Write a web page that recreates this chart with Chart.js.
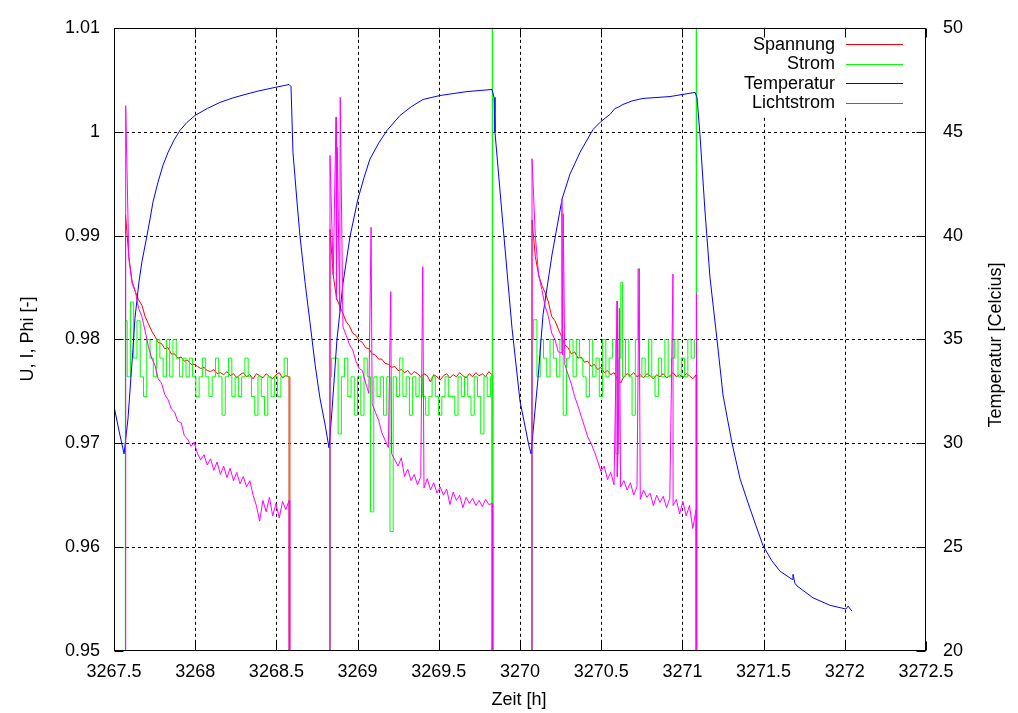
<!DOCTYPE html>
<html>
<head>
<meta charset="utf-8">
<script src="https://cdn.jsdelivr.net/npm/chart.js@4.4.1/dist/chart.umd.min.js"></script>
<style>
  html, body { margin: 0; padding: 0; background: #fff; }
  #wrap { width: 1018px; height: 713px; position: relative; }
</style>
</head>
<body>
<div id="wrap"><canvas id="c"></canvas></div>
<script>
// ---------- data ----------
const xTicks = [3267.5, 3268, 3268.5, 3269, 3269.5, 3270, 3270.5, 3271, 3271.5, 3272, 3272.5];
const xTickLabels = ["3267.5", "3268", "3268.5", "3269", "3269.5", "3270", "3270.5", "3271", "3271.5", "3272", "3272.5"];
const yTicks = [0.95, 0.96, 0.97, 0.98, 0.99, 1.00, 1.01];
const yTickLabels = ["0.95", "0.96", "0.97", "0.98", "0.99", "1", "1.01"];
const y2Ticks = [20, 25, 30, 35, 40, 45, 50];
const y2TickLabels = ["20", "25", "30", "35", "40", "45", "50"];

const seriesNames = ["Spannung", "Strom", "Temperatur", "Lichtstrom"];
const seriesColors = ["#ff0000", "#00ff00", "#0000ff", "#ff00ff"];

// start time and sampling interval of each measuring cycle [h]
const zyklusStart = [3267.571, 3268.830, 3270.074];
const zyklusSchritt = [0.02014, 0.01996, 0.0202];

const spannung1 = [0.9920,0.9880,0.9856,0.9846,0.9838,0.9833,0.9822,0.9815,0.9808,0.9803,0.9797,0.9796,0.9791,0.9792,0.9786,0.9786,0.9782,0.9783,0.9779,0.9780,0.9776,0.9776,0.9774,0.9772,0.9773,0.9770,0.9769,0.9771,0.9767,0.9768,0.9766,0.9769,0.9765,0.9767,0.9763,0.9766,0.9768,0.9764,0.9766,0.9762,0.9767,0.9765,0.9763,0.9767,0.9764,0.9762,0.9766,0.9768,0.9763,0.9765,0.9764];
const spannung2 = [0.9906,0.9862,0.9840,0.9832,0.9825,0.9817,0.9813,0.9806,0.9804,0.9799,0.9797,0.9792,0.9791,0.9786,0.9785,0.9781,0.9781,0.9777,0.9776,0.9773,0.9774,0.9770,0.9771,0.9768,0.9770,0.9766,0.9769,0.9767,0.9764,0.9767,0.9765,0.9759,0.9766,0.9764,0.9761,0.9765,0.9767,0.9763,0.9766,0.9764,0.9768,0.9765,0.9763,0.9767,0.9764,0.9768,0.9765,0.9767,0.9764,0.9769,0.9766];
const spannung3 = [0.9915,0.9880,0.9862,0.9852,0.9845,0.9836,0.9822,0.9818,0.9810,0.9803,0.9795,0.9792,0.9786,0.9788,0.9782,0.9783,0.9778,0.9779,0.9774,0.9776,0.9771,0.9773,0.9768,0.9770,0.9766,0.9768,0.9762,0.9758,0.9764,0.9767,0.9765,0.9768,0.9764,0.9766,0.9763,0.9767,0.9765,0.9762,0.9766,0.9764,0.9767,0.9763,0.9765,0.9768,0.9764,0.9766,0.9763,0.9767,0.9765,0.9762,0.9766];

const strom1 = [0.9818,0.9764,0.9836,0.9782,0.9818,0.9764,0.9745,0.9800,0.9782,0.9764,0.9800,0.9782,0.9764,0.9800,0.9764,0.9800,0.9782,0.9764,0.9782,0.9764,0.9782,0.9764,0.9745,0.9764,0.9782,0.9764,0.9745,0.9764,0.9782,0.9764,0.9727,0.9764,0.9782,0.9745,0.9764,0.9745,0.9764,0.9782,0.9764,0.9745,0.9727,0.9764,0.9745,0.9727,0.9764,0.9745,0.9764,0.9745,0.9764,0.9782,0.9764];
const strom2 = [0.9764,0.9782,0.9782,0.9709,0.9764,0.9782,0.9745,0.9764,0.9727,0.9764,0.9727,0.9782,0.9764,0.9634,0.9764,0.9745,0.9764,0.9727,0.9764,0.9615,0.9764,0.9745,0.9782,0.9745,0.9764,0.9727,0.9764,0.9745,0.9764,0.9745,0.9727,0.9745,0.9764,0.9745,0.9727,0.9745,0.9764,0.9745,0.9745,0.9727,0.9764,0.9745,0.9764,0.9745,0.9727,0.9764,0.9745,0.9709,0.9764,0.9745,0.9764];
const strom3 = [0.9800,0.9819,0.9764,0.9800,0.9782,0.9764,0.9800,0.9782,0.9764,0.9800,0.9727,0.9782,0.9800,0.9764,0.9800,0.9782,0.9764,0.9745,0.9800,0.9764,0.9782,0.9745,0.9800,0.9764,0.9782,0.9800,0.9690,0.9782,0.9764,0.9800,0.9764,0.9727,0.9800,0.9764,0.9782,0.9764,0.9800,0.9764,0.9745,0.9782,0.9764,0.9800,0.9764,0.9782,0.9800,0.9764,0.9782,0.9764,0.9800,0.9782,0.9800];
const stromEnde = [null, 1.05, 1.05];
const stromSpitzen = [[3270.622, 0.9855], [3270.731, 0.9868]];

const licht1 = [0.9966,0.9878,0.9854,0.9846,0.9830,0.9822,0.9808,0.9793,0.9782,0.9775,0.9762,0.9758,0.9747,0.9742,0.9733,0.9730,0.9721,0.9720,0.9707,0.9704,0.9697,0.9701,0.9690,0.9684,0.9689,0.9679,0.9685,0.9674,0.9682,0.9670,0.9678,0.9667,0.9676,0.9664,0.9672,0.9661,0.9668,0.9658,0.9664,0.9650,0.9640,0.9625,0.9645,0.9634,0.9648,0.9630,0.9642,0.9628,0.9644,0.9636,0.9645];
const licht2 = [0.9977,0.9862,0.9838,0.9826,0.9812,0.9804,0.9795,0.9790,0.9779,0.9772,0.9770,0.9758,0.9748,0.9738,0.9730,0.9722,0.9710,0.9703,0.9696,0.9690,0.9684,0.9678,0.9686,0.9668,0.9675,0.9664,0.9670,0.9660,0.9668,0.9657,0.9666,0.9655,0.9662,0.9652,0.9658,0.9650,0.9656,0.9641,0.9653,0.9645,0.9650,0.9638,0.9648,0.9642,0.9647,0.9640,0.9645,0.9639,0.9646,0.9641,0.9642];
const licht3 = [0.9974,0.9900,0.9862,0.9848,0.9832,0.9822,0.9806,0.9800,0.9788,0.9787,0.9776,0.9766,0.9757,0.9745,0.9736,0.9726,0.9716,0.9706,0.9700,0.9692,0.9683,0.9673,0.9678,0.9665,0.9672,0.9660,0.9668,0.9658,0.9664,0.9655,0.9662,0.9650,0.9658,0.9646,0.9655,0.9648,0.9652,0.9640,0.9650,0.9643,0.9649,0.9638,0.9647,0.9640,0.9646,0.9632,0.9644,0.9630,0.9640,0.9618,0.9636];
const lichtEnde = [null, null, 0.9844];
const lichtSpitzen = [[3267.573, 1.0025],
  [3268.867, 1.0014], [3268.875, 0.9985], [3268.893, 1.0033], [3269.083, 0.9908], [3269.204, 0.9846], [3269.401, 0.9870],
  [3270.258, 0.9935], [3270.262, 0.9785], [3270.266, 0.9921], [3270.598, 0.9837], [3270.605, 0.9700], [3270.612, 0.9830],
  [3270.733, 0.9868], [3270.942, 0.9863]];

const tempZeit = [3267.500,3267.531,3267.562,3267.586,3267.617,3267.629,3267.654,3267.672,3267.703,3267.722,3267.740,3267.771,3267.802,3267.833,3267.870,3267.906,3267.950,3267.999,3268.075,3268.153,3268.230,3268.307,3268.385,3268.461,3268.578,3268.590,3268.602,3268.627,3268.645,3268.676,3268.707,3268.738,3268.768,3268.799,3268.824,3268.842,3268.873,3268.910,3268.953,3269.002,3269.040,3269.076,3269.130,3269.181,3269.261,3269.330,3269.403,3269.507,3269.674,3269.828,3269.840,3269.846,3269.895,3269.951,3270.000,3270.055,3270.068,3270.092,3270.111,3270.142,3270.197,3270.259,3270.308,3270.370,3270.450,3270.500,3270.554,3270.585,3270.603,3270.634,3270.690,3270.757,3270.924,3271.078,3271.090,3271.108,3271.139,3271.170,3271.213,3271.250,3271.305,3271.355,3271.416,3271.496,3271.550,3271.601,3271.675,3271.681,3271.693,3271.706,3271.804,3271.909,3272.007,3272.020,3272.044];
const tempWert = [31.79,30.59,29.49,31.17,34.57,36.01,37.78,38.74,39.99,40.80,41.61,42.57,43.39,44.01,44.60,45.06,45.45,45.78,46.12,46.41,46.62,46.79,46.95,47.08,47.27,47.17,44.01,41.61,39.99,37.78,35.80,33.80,32.18,30.93,29.78,31.55,35.00,37.69,39.94,41.76,42.80,43.68,44.45,45.06,45.78,46.20,46.55,46.74,46.93,47.03,46.65,44.97,40.51,35.53,32.03,29.88,29.49,31.55,33.13,36.20,39.07,41.76,42.96,44.01,45.11,45.50,45.83,46.12,46.17,46.31,46.48,46.60,46.69,46.89,46.65,44.87,41.18,37.97,35.00,32.32,30.02,28.29,26.86,25.08,24.35,23.84,23.45,23.69,23.26,23.13,22.56,22.20,22.02,22.16,21.92];

// ---------- build point lists ----------
function baue(zyklen, ende, spitzen) {
  const pts = [];
  zyklen.forEach((werte, c) => {
    const t0 = zyklusStart[c], dt = zyklusSchritt[c];
    pts.push({ x: t0 - 0.002, y: 0 });
    werte.forEach((v, i) => pts.push({ x: t0 + i * dt, y: v }));
    const tE = t0 + (werte.length - 1) * dt;
    if (ende && ende[c] != null) pts.push({ x: tE + 0.002, y: ende[c] });
    pts.push({ x: tE + 0.004, y: 0 });
  });
  (spitzen || []).forEach(([t, v]) => pts.push({ x: t, y: v }));
  pts.sort((a, b) => a.x - b.x);
  return pts;
}

const FONT = '"Liberation Sans", Arial, Helvetica, sans-serif';
Chart.defaults.font.family = FONT;
Chart.defaults.font.size = 18;
Chart.defaults.color = '#000';

const gnuplotDeko = {
  id: 'gnuplotDeko',
  beforeDatasetsDraw(chart) {
    const { ctx, chartArea: a, scales } = chart;
    ctx.save();
    ctx.strokeStyle = '#000';
    ctx.lineWidth = 1;
    ctx.setLineDash([3, 3]);
    xTicks.forEach(v => {
      const px = Math.round(scales.x.getPixelForValue(v)) + 0.5;
      if (px < a.left + 2 || px > a.right - 2) return;
      ctx.beginPath(); ctx.moveTo(px, a.top); ctx.lineTo(px, a.bottom); ctx.stroke();
    });
    yTicks.forEach(v => {
      const py = Math.round(scales.y.getPixelForValue(v)) + 0.5;
      if (py < a.top + 2 || py > a.bottom - 2) return;
      ctx.beginPath(); ctx.moveTo(a.left, py); ctx.lineTo(a.right, py); ctx.stroke();
    });
    ctx.setLineDash([]);
    // opaque key box
    ctx.fillStyle = '#fff';
    ctx.fillRect(728, 33, 188, 82);
    ctx.restore();
  },
  afterDatasetsDraw(chart) {
    const { ctx, chartArea: a, scales } = chart;
    ctx.save();
    ctx.strokeStyle = '#000';
    ctx.lineWidth = 1;
    const L = Math.round(a.left) + 0.5, R = Math.round(a.right) - 0.5;
    const T = Math.round(a.top) + 0.5, B = Math.round(a.bottom) - 0.5;
    ctx.strokeRect(L, T, R - L, B - T);
    const tl = 9;
    ctx.beginPath();
    xTicks.forEach(v => {
      const px = Math.round(scales.x.getPixelForValue(v)) + 0.5;
      ctx.moveTo(px, B); ctx.lineTo(px, B - tl);
      ctx.moveTo(px, T); ctx.lineTo(px, T + tl);
    });
    yTicks.forEach(v => {
      const py = Math.round(scales.y.getPixelForValue(v)) + 0.5;
      ctx.moveTo(L, py); ctx.lineTo(L + tl, py);
    });
    y2Ticks.forEach(v => {
      const py = Math.round(scales.y2.getPixelForValue(v)) + 0.5;
      ctx.moveTo(R, py); ctx.lineTo(R - tl, py);
    });
    ctx.stroke();

    // key
    ctx.font = '18px ' + FONT;
    ctx.fillStyle = '#000';
    ctx.textAlign = 'right';
    ctx.textBaseline = 'middle';
    const keyY = [44, 63.5, 83, 102.5];
    seriesNames.forEach((n, i) => {
      ctx.fillText(n, 835, keyY[i] + 1);
      ctx.strokeStyle = seriesColors[i];
      ctx.beginPath();
      ctx.moveTo(846, Math.round(keyY[i]) + 0.5);
      ctx.lineTo(903, Math.round(keyY[i]) + 0.5);
      ctx.stroke();
    });

    // axis titles
    ctx.fillStyle = '#000';
    ctx.textAlign = 'center';
    ctx.fillText('Zeit [h]', 519, 700);
    ctx.save();
    ctx.translate(28, 339);
    ctx.rotate(-Math.PI / 2);
    ctx.fillText('U, I, Phi [-]', 0, 0);
    ctx.restore();
    ctx.save();
    ctx.translate(996, 345);
    ctx.rotate(-Math.PI / 2);
    ctx.fillText('Temperatur [Celcius]', 0, 0);
    ctx.restore();
    ctx.restore();
  }
};

const ds = (label, color, data, axis, order, stepped) => ({
  label, data, yAxisID: axis, order, stepped,
  borderColor: color, backgroundColor: color,
  borderWidth: 1, pointRadius: 0, pointHoverRadius: 0,
  tension: 0, fill: false
});

new Chart(document.getElementById('c'), {
  type: 'line',
  data: {
    datasets: [
      ds(seriesNames[0], seriesColors[0], baue([spannung1, spannung2, spannung3]), 'y', 4, false),
      ds(seriesNames[1], seriesColors[1], baue([strom1, strom2, strom3], stromEnde, stromSpitzen), 'y', 3, 'middle'),
      ds(seriesNames[2], seriesColors[2], tempZeit.map((t, i) => ({ x: t, y: tempWert[i] })), 'y2', 2, false),
      ds(seriesNames[3], seriesColors[3], baue([licht1, licht2, licht3], lichtEnde, lichtSpitzen), 'y', 1, false)
    ]
  },
  options: {
    responsive: true,
    maintainAspectRatio: false,
    animation: false,
    events: [],
    layout: { padding: { top: 25, left: 0, right: 0, bottom: 0 } },
    plugins: { legend: { display: false }, tooltip: { enabled: false }, title: { display: false } },
    scales: {
      x: {
        type: 'linear', min: 3267.5, max: 3272.5,
        afterBuildTicks: s => { s.ticks = xTicks.map(v => ({ value: v })); },
        afterFit: s => { s.height = 62; },
        ticks: { callback: (v, i) => xTickLabels[i], padding: 10, maxRotation: 0, autoSkip: false, color: '#000' },
        grid: { display: false, drawTicks: false },
        border: { display: false }
      },
      y: {
        position: 'left', min: 0.95, max: 1.01,
        afterBuildTicks: s => { s.ticks = yTicks.map(v => ({ value: v })); },
        afterFit: s => { s.width = 114; },
        ticks: { callback: (v, i) => yTickLabels[i], padding: 14, autoSkip: false, color: '#000' },
        grid: { display: false, drawTicks: false },
        border: { display: false }
      },
      y2: {
        position: 'right', min: 20, max: 50,
        afterBuildTicks: s => { s.ticks = y2Ticks.map(v => ({ value: v })); },
        afterFit: s => { s.width = 92; },
        ticks: { callback: (v, i) => y2TickLabels[i], padding: 17, autoSkip: false, color: '#000' },
        grid: { display: false, drawTicks: false },
        border: { display: false }
      }
    }
  },
  plugins: [gnuplotDeko]
});
</script>
</body>
</html>
